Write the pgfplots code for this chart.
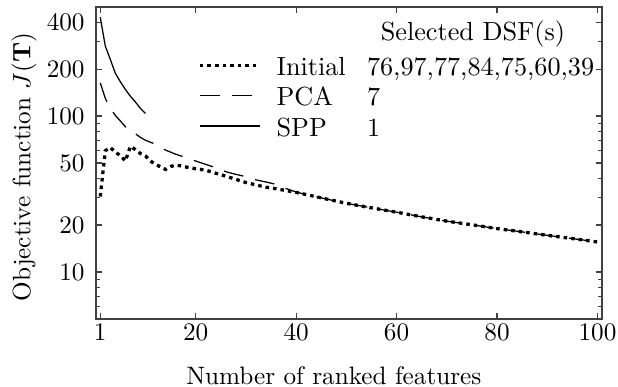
\documentclass[border=0pt]{standalone}
\usepackage{pgfplots}
\pgfplotsset{compat=1.18}
\pgfplotstableread{
f v
1 30.5
2 60
3 63
4 58.5
5 56
6 51.5
7 64
8 61
9 57.5
10 55.5
11 51.5
12 49
13 47.3
14 45.5
15 47.5
16 48.5
17 48
18 47.2
19 46.5
20 46
22 45
24 43
26 41.2
28 39.3
30 37.5
32 36.2
34 35
36 34.2
38 33.3
40 32.4
42 31.4
44 30.4
46 29.4
48 28.5
50 27.6
55 25.8
60 24.2
65 22.6
70 21.2
75 20.1
80 19
85 18.1
90 17.2
95 16.4
100 15.6
}\initial
\pgfplotstableread{
f v
1 163
2 130
3 112
4 101
5 93
6 85.5
7 81
8 77
9 73
10 70
12 66
14 60.5
16 57
18 54.3
20 51.5
22 49
24 46.7
26 44
28 42.3
30 40.9
32 39
34 37.8
36 36.5
38 34.3
40 32.6
42 31.4
44 30.4
46 29.4
48 28.5
50 27.6
55 25.8
60 24.2
65 22.6
70 21.2
75 20.1
80 19
85 18.1
90 17.2
95 16.4
100 15.6
}\pca
\pgfplotstableread{
f v
1 430
2 281
3 231
4 188
5 166
6 148
7 134
8 123
9 112
10 104
}\spp
\begin{document}
\begin{tikzpicture}
\begin{axis}[
  scale only axis, width=200.8pt, height=123.8pt,
  xmin=0.15, xmax=100.9,
  ymode=log, ymin=5, ymax=500,
  xtick={1,20,40,60,80,100},
  ytick={10,20,50,100,200,400},
  yticklabels={10,20,50,100,200,400},
  minor ytick={6,7,8,9,30,40,60,70,80,90,300},
  tick align=inside,
  major tick length=2.4pt, minor tick length=1.5pt,
  axis line style={black!75, line width=0.5pt},
  every tick/.style={black!75, line width=0.5pt},
  yticklabel style={xshift=-1pt},
  xticklabel style={yshift=1.5pt},
  xlabel={Number of ranked features},
  xlabel style={at={(axis description cs:0.470,-0.210)}, anchor=base},
  ylabel={Objective function $J(\mathbf{T})$},
  ylabel style={at={(axis description cs:-0.1295,0.487)}, anchor=base},
  legend style={draw=none, fill=none, at={(0.201,0.8628)}, anchor=north west,
    inner sep=0pt, row sep=0pt, font=\fontsize{10.4}{12}\selectfont,
    nodes={inner sep=0pt, text height=10pt, text depth=2pt},
    /tikz/every odd column/.append style={column sep=6pt}},
  legend cell align=left,
  legend image code/.code={\draw[#1] (0pt,0pt) -- (23.8pt,0pt);},
]
\addplot[black, line width=1.3pt, dash pattern=on 1.4pt off 1.6pt] table[x=f,y=v] {\initial};
\addlegendentry{\makebox[35.9pt][l]{Initial}76,97,77,84,75,60,39}
\addplot[black, line width=0.5pt, dash pattern=on 7.9pt off 4.8pt] table[x=f,y=v] {\pca};
\addlegendentry{\makebox[35.9pt][l]{PCA}7}
\addplot[black, line width=0.5pt] table[x=f,y=v] {\spp};
\addlegendentry{\makebox[35.9pt][l]{SPP}1}
\node[anchor=base, font=\fontsize{10.4}{12}\selectfont] at (rel axis cs:0.745,0.894) {Selected DSF(s)};
\end{axis}
\pgfresetboundingbox
\path ([shift={(-38.1pt,-26.6pt)}]current axis.south west) rectangle ([shift={(6.35pt,2.8pt)}]current axis.north east);
\end{tikzpicture}
\end{document}
